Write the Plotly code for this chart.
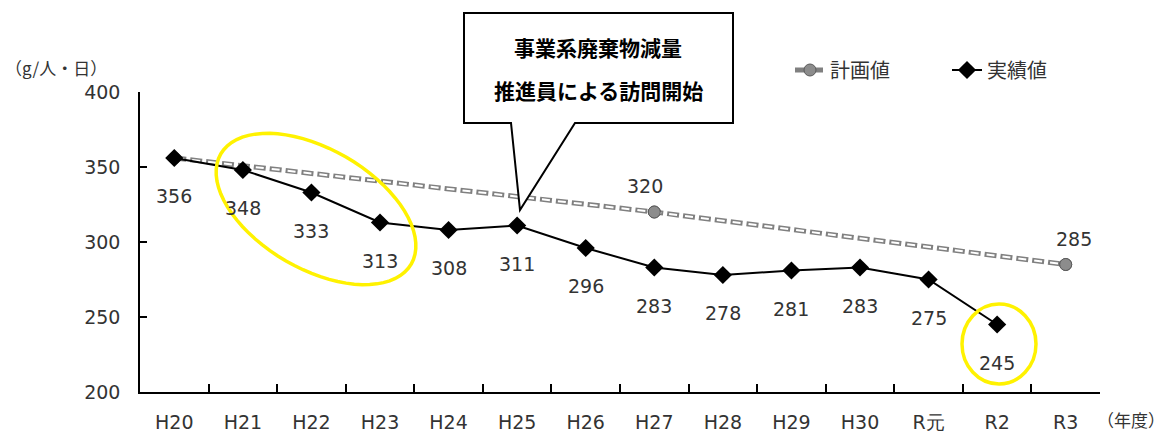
import math
import plotly.graph_objects as go

# ---------------- data ----------------
years = ["H20", "H21", "H22", "H23", "H24", "H25", "H26", "H27",
         "H28", "H29", "H30", "R元", "R2", "R3"]
actual_years = ["H20", "H21", "H22", "H23", "H24", "H25", "H26", "H27",
                "H28", "H29", "H30", "R元", "R2"]
actual_values = [356, 348, 333, 313, 308, 311, 296, 283, 278, 281, 283, 275, 245]
plan_years = ["H20", "H27", "R3"]
plan_values = [356, 320, 285]
plan_label_years = ["H27", "R3"]
plan_label_values = [320, 285]
y_ticks = [200, 250, 300, 350, 400]
series_names = ["計画値", "実績値"]
unit_label = "（g/人・日）"
year_label = "（年度）"
callout_lines = ["事業系廃棄物減量", "推進員による訪問開始"]

# ---------------- geometry / style ----------------
W, H = 1165, 432
L, R, T, B = 140, 65, 92, 40
PW, PH = W - L - R, H - T - B
NUM_FONT = "DejaVu Sans"
CJK_FONT = "Noto Sans CJK JP"
TXT = "#333333"
YELLOW = "#FFF200"
NUM_SIZE = 19


def px(x, y):
    """pixel position -> paper coords"""
    return (x - L) / PW, (T + PH - y) / PH


fig = go.Figure()

# planned line: grey dashed outline + white inner dash
fig.add_trace(go.Scatter(
    x=plan_years, y=plan_values, name=series_names[0], mode="lines+markers",
    line=dict(color="#808080", width=5, dash="12px,4px"),
    marker=dict(symbol="circle", size=12, color="#8c8c8c",
                line=dict(color="#5a5a5a", width=1)),
    hoverinfo="skip"))
fig.add_trace(go.Scatter(
    x=plan_years, y=plan_values, mode="lines", showlegend=False,
    line=dict(color="white", width=2, dash="0px,2px,8px,6px"),
    hoverinfo="skip"))
fig.add_trace(go.Scatter(
    x=plan_label_years, y=plan_label_values, mode="markers", showlegend=False,
    marker=dict(symbol="circle", size=12, color="#8c8c8c",
                line=dict(color="#5a5a5a", width=1)),
    hoverinfo="skip"))
# actual line
fig.add_trace(go.Scatter(
    x=actual_years, y=actual_values, name=series_names[1], mode="lines+markers",
    line=dict(color="black", width=2),
    marker=dict(symbol="diamond", size=14, color="black"),
    hoverinfo="skip"))

annotations = []
for yr, v in zip(actual_years, actual_values):
    annotations.append(dict(x=yr, y=v, xref="x", yref="y", text=str(v),
                            showarrow=False, yshift=-38,
                            font=dict(family=NUM_FONT, size=NUM_SIZE, color=TXT)))
plan_xshift = [-9, 8]
for yr, v, xs in zip(plan_label_years, plan_label_values, plan_xshift):
    annotations.append(dict(x=yr, y=v, xref="x", yref="y", text=str(v),
                            showarrow=False, yshift=26, xshift=xs,
                            font=dict(family=NUM_FONT, size=NUM_SIZE, color=TXT)))

ux, uy = px(3, 68)
annotations.append(dict(x=ux, y=uy, xref="paper", yref="paper", text=unit_label,
                        showarrow=False, xanchor="left", yanchor="middle",
                        font=dict(family=CJK_FONT, size=17, color=TXT)))
yx, yy = px(1095, 419)
annotations.append(dict(x=yx, y=yy, xref="paper", yref="paper", text=year_label,
                        showarrow=False, xanchor="left", yanchor="middle",
                        font=dict(family=CJK_FONT, size=17, color=TXT)))
for line, ypix in zip(callout_lines, [47, 90]):
    cx, cy = px(598, ypix)
    annotations.append(dict(x=cx, y=cy, xref="paper", yref="paper", text=line,
                            showarrow=False, xanchor="center", yanchor="middle",
                            font=dict(family=CJK_FONT, size=21, color="black",
                                      weight="bold")))

shapes = []
# callout box with pointer
pts = [(464, 13), (733, 13), (733, 123), (575, 123), (520, 210), (511, 123), (464, 123)]
path = "M " + " L ".join("{:.5f},{:.5f}".format(*px(a, b)) for a, b in pts) + " Z"
shapes.append(dict(type="path", xref="paper", yref="paper", path=path,
                   fillcolor="white", line=dict(color="black", width=2), layer="above"))

# tilted ellipse around H21-H23
ecx, ecy, ea, eb, th = 316, 209, 110, 60, math.radians(30)
epts = []
for i in range(73):
    t = 2 * math.pi * i / 72
    xx = ecx + ea * math.cos(t) * math.cos(th) - eb * math.sin(t) * math.sin(th)
    yy2 = ecy + ea * math.cos(t) * math.sin(th) + eb * math.sin(t) * math.cos(th)
    epts.append(px(xx, yy2))
epath = "M " + " L ".join("{:.5f},{:.5f}".format(a, b) for a, b in epts) + " Z"
shapes.append(dict(type="path", xref="paper", yref="paper", path=epath,
                   line=dict(color=YELLOW, width=3.5), layer="above"))
# circle around R2
x0, y0 = px(962, 384)
x1, y1 = px(1036, 304)
shapes.append(dict(type="circle", xref="paper", yref="paper", x0=x0, y0=y0, x1=x1, y1=y1,
                   line=dict(color=YELLOW, width=3.5), layer="above"))

lx, ly = px(790, 70)
fig.update_layout(
    width=W, height=H, margin=dict(l=L, r=R, t=T, b=B, autoexpand=False),
    paper_bgcolor="white", plot_bgcolor="white",
    showlegend=True,
    legend=dict(orientation="h", x=lx, y=ly, xanchor="left", yanchor="middle",
                font=dict(family=CJK_FONT, size=20, color=TXT),
                entrywidth=112, entrywidthmode="pixels",
                bgcolor="rgba(0,0,0,0)"),
    annotations=annotations, shapes=shapes,
    xaxis=dict(type="category", categoryorder="array", categoryarray=years,
               range=[-0.5, len(years) - 0.5], tickson="boundaries",
               ticks="inside", ticklen=8, tickcolor="black", tickwidth=1.5,
               showline=True, linecolor="black", linewidth=1.5,
               showgrid=False, zeroline=False, ticklabelstandoff=12, automargin=False,
               tickfont=dict(family=NUM_FONT, size=NUM_SIZE, color=TXT), fixedrange=True),
    yaxis=dict(range=[200, 400], tickvals=y_ticks, ticks="inside", ticklen=7,
               tickcolor="black", tickwidth=1.5,
               showline=True, linecolor="black", linewidth=1.5,
               showgrid=False, zeroline=False, ticklabelstandoff=14, automargin=False,
               tickfont=dict(family=NUM_FONT, size=NUM_SIZE, color=TXT), fixedrange=True),
)

fig.write_html("out.html", config={"displayModeBar": False},
               post_script="document.body.style.margin='0';")
